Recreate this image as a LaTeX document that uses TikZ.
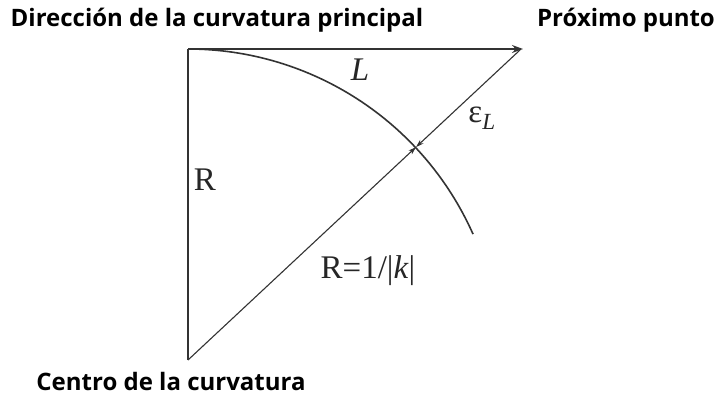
\documentclass[tikz,border=0pt]{standalone}
\usepackage{fontspec}
\setmainfont{Liberation Serif}
\newfontfamily\labelfont{Open Sans}
\usetikzlibrary{calc,arrows.meta}
\begin{document}
\begin{tikzpicture}[x=1pt,y=1pt,
  ln/.style={draw=black!80,line width=1.1pt},
  bigtip/.style={-{Stealth[length=11pt,width=8pt]}},
  smalltip/.style={-{Stealth[length=8pt,width=5pt]}},
  txt/.style={font=\labelfont\bfseries\fontsize{24}{26}\selectfont,inner sep=0pt},
  mth/.style={font=\fontsize{33}{36}\selectfont,inner sep=0pt,text=black!85}]
\useasboundingbox[fill=white] (0,0) rectangle (720,400);
\coordinate (O) at (188,351);
\coordinate (C) at (188,40);
\coordinate (P) at (523,351);
\coordinate (Q) at (520,350);
\coordinate (I) at ($(C)!312pt!(Q)$);
% lines
\draw[ln,bigtip] (O) -- (P);
\draw[ln] (O) -- (C);
\draw[ln,smalltip] (C) -- (I);
\draw[ln,smalltip] (Q) -- (I);
\draw[ln,line width=1.6pt] (O) arc[start angle=90,end angle=24,radius=312];
% labels
\node[txt] (t1) at (217,380) {Dirección de la curvatura principal};
\node[txt] (t2) at (626,380) {Próximo punto};
\node[txt] (t3) at (171,19) {Centro de la curvatura};
\node[mth] (l1) at (360,330) {\textit{L}};
\node[mth] (l2) at (482,282) {ε\textsubscript{\textit{L}}};
\node[mth] (l3) at (205,220) {R};
\node[mth] (l4) at (368,129) {R=1/|\textit{k}|};
\end{tikzpicture}
\end{document}
